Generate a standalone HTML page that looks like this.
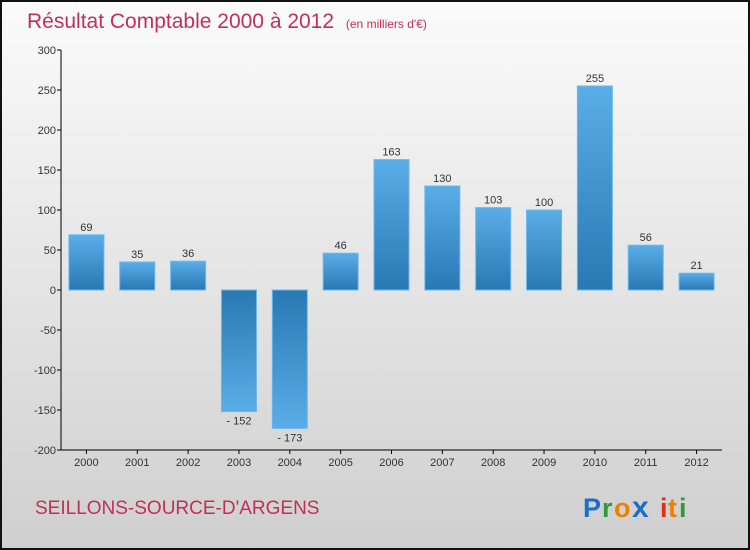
<!DOCTYPE html>
<html><head><meta charset="utf-8"><style>
body{margin:0;}
svg{display:block;font-family:"Liberation Sans",sans-serif;}
</style></head><body>
<svg width="750" height="550" viewBox="0 0 750 550">
<defs>
<linearGradient id="bg" x1="0" y1="0" x2="0" y2="1"><stop offset="0" stop-color="#fbfbfb"/><stop offset="1" stop-color="#cfcfcf"/></linearGradient>
<linearGradient id="gp" x1="0" y1="0" x2="0" y2="1"><stop offset="0" stop-color="#5aaee8"/><stop offset="1" stop-color="#2878b4"/></linearGradient>
<linearGradient id="gn" x1="0" y1="0" x2="0" y2="1"><stop offset="0" stop-color="#2878b4"/><stop offset="1" stop-color="#5aaee8"/></linearGradient>
</defs>
<rect x="1" y="1" width="748" height="548" fill="url(#bg)" stroke="#111" stroke-width="2"/>
<text x="27" y="28" font-size="21" fill="#c0305a">Résultat Comptable 2000 à 2012 <tspan font-size="12" dx="6">(en milliers d'€)</tspan></text>
<g id="axes"></g>
<g id="bars"></g>
<text x="35" y="514" font-size="19" fill="#c0305a">SEILLONS-SOURCE-D'ARGENS</text>
<g font-size="27" font-weight="bold">
<text x="583" y="517" fill="#1a6fc8">P</text><text x="602" y="517" fill="#2e9a3a">r</text><text x="614" y="517" fill="#f08000">o</text><text x="632" y="517" font-size="30" fill="#1a6fc8">x</text><text x="660" y="517" fill="#e03010">i</text><text x="668" y="517" fill="#f08000">t</text><text x="679" y="517" fill="#2e9a3a">i</text>
</g>
</svg>
<script>
const categories=["2000","2001","2002","2003","2004","2005","2006","2007","2008","2009","2010","2011","2012"];
const values=[69,35,36,-152,-173,46,163,130,103,100,255,56,21];
const yTicks=[300,250,200,150,100,50,0,-50,-100,-150,-200];
const NS="http://www.w3.org/2000/svg";
const x0=61,x1=722,yTop=50,yBot=450,vMax=300,vMin=-200;
const y=v=>yTop+(vMax-v)/(vMax-vMin)*(yBot-yTop);
const bw=(x1-x0)/categories.length;
const xc=i=>x0+(i+0.5)*bw;
function mk(t,a,p){const e=document.createElementNS(NS,t);for(const k in a)e.setAttribute(k,a[k]);p.appendChild(e);return e;}
const ax=document.getElementById('axes'),bars=document.getElementById('bars');
let l=mk('line',{x1:x0,y1:yTop,x2:x0,y2:yBot,stroke:'#000'},ax);


l=mk('line',{x1:x0,y1:yBot,x2:x1,y2:yBot,stroke:'#000'},ax);


yTicks.forEach(v=>{
 mk('line',{x1:x0-4,y1:y(v),x2:x0,y2:y(v),stroke:'#000'},ax);
 const t=mk('text',{x:x0-5,y:y(v)+4,'font-size':11,fill:'#333','text-anchor':'end'},ax);
 t.textContent=v<0?'-'+Math.abs(v):v;
 
 
});
categories.forEach((c,i)=>{
 mk('line',{x1:xc(i),y1:yBot,x2:xc(i),y2:yBot+4,stroke:'#000'},ax);
 const t=mk('text',{x:xc(i),y:yBot+16,'font-size':11,fill:'#333','text-anchor':'middle'},ax);
 t.textContent=c;
 
 
 const v=values[i],top=Math.min(y(v),y(0)),h=Math.abs(y(v)-y(0));
 const r=mk('rect',{x:xc(i)-17.5,y:top,width:35,height:h,fill:v>=0?'url(#gp)':'url(#gn)',stroke:'#6ab8ee','stroke-width':1},bars);
 
 
 const lt=mk('text',{x:xc(i),y:v>=0?y(v)-4:y(v)+13,'font-size':11,fill:'#333','text-anchor':'middle'},bars);
 lt.textContent=v<0?'- '+Math.abs(v):v;
 
 
});
</script>
</body></html>
